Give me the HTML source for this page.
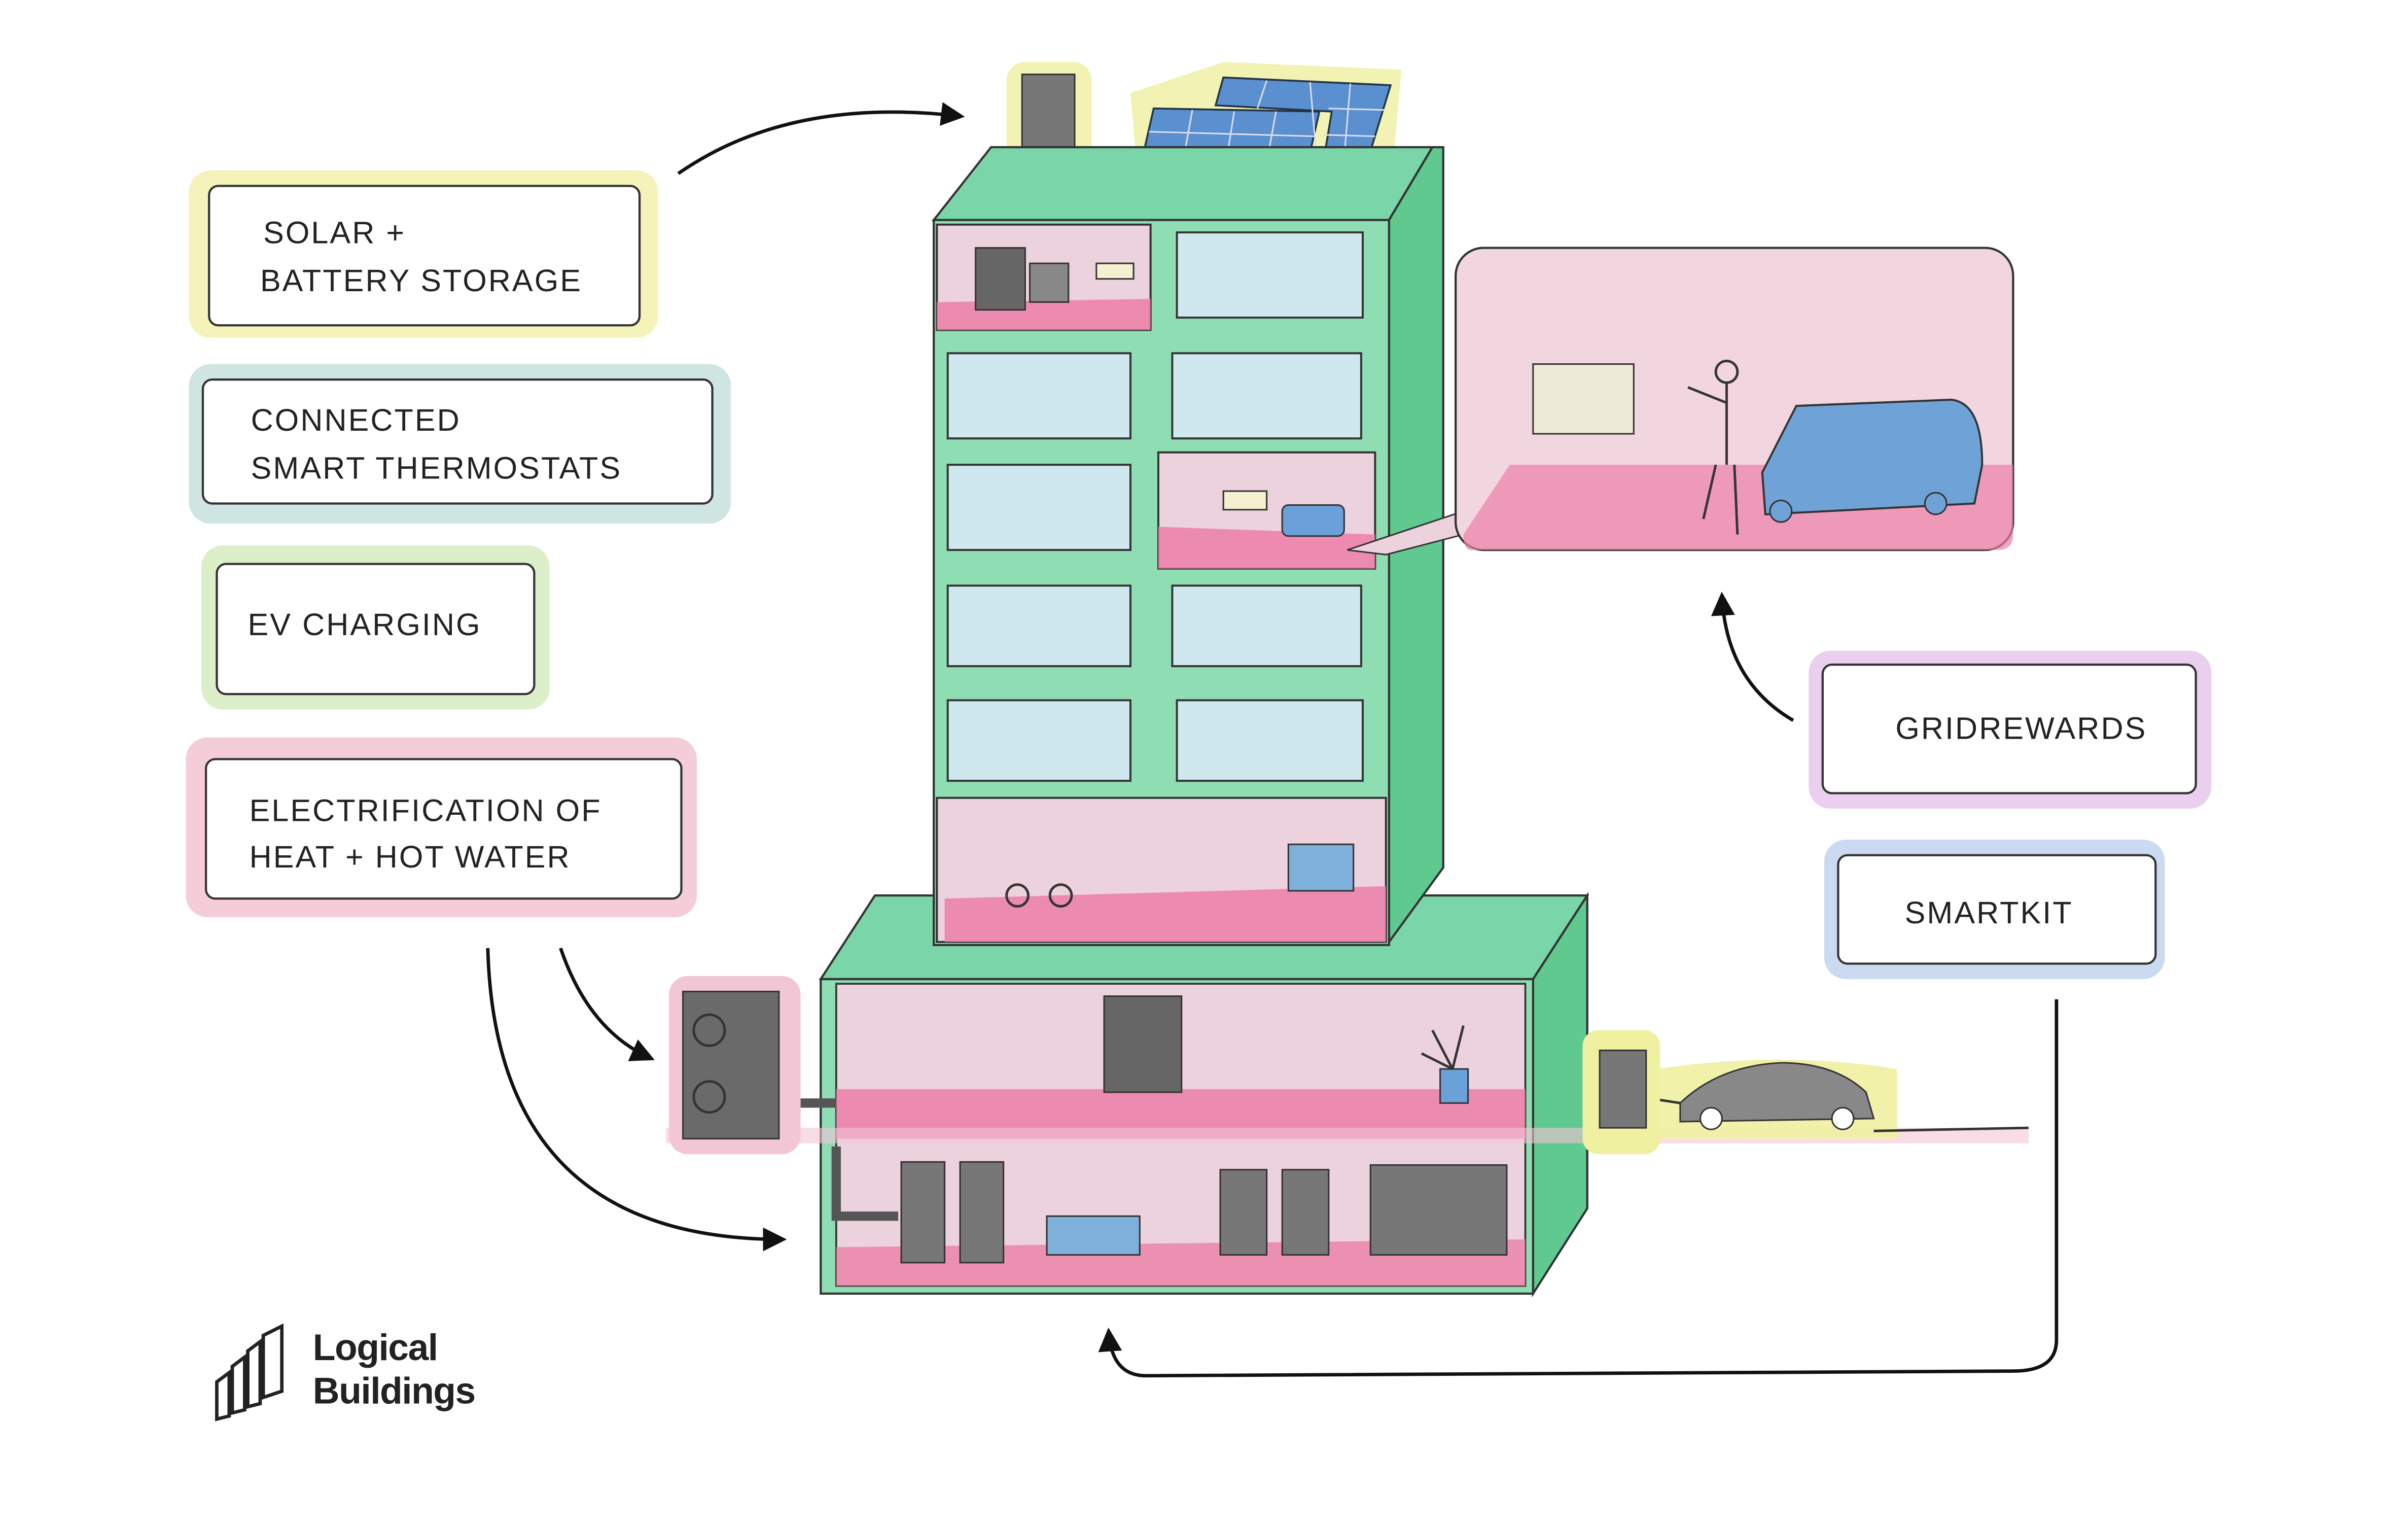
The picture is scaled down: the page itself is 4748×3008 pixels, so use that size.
<!DOCTYPE html>
<html><head><meta charset="utf-8"><style>
html,body{margin:0;padding:0;background:#fff}
svg{display:block}
.t{font-family:"Liberation Sans",sans-serif;font-size:20px;fill:#222;letter-spacing:1px}
.lg{font-family:"Liberation Sans",sans-serif;font-size:24px;font-weight:bold;fill:#222;letter-spacing:-0.5px}
.ln{fill:none;stroke:#333;stroke-width:1.6}
.ar{fill:none;stroke:#111;stroke-width:2.2}
</style></head><body>
<svg width="4748" height="3008" viewBox="0 0 1555 985" preserveAspectRatio="none" xmlns="http://www.w3.org/2000/svg">
<defs><marker id="h" viewBox="0 0 10 10" refX="8" refY="5" markerWidth="7" markerHeight="7" orient="auto"><path d="M0,0L10,5L0,10z" fill="#111"/></marker></defs>
<!-- label boxes -->
<g>
<rect x="122" y="110" width="303" height="108" rx="14" fill="#f3f0a8" opacity=".8"/>
<rect x="135" y="120" width="278" height="90" rx="6" fill="#fff" stroke="#333" stroke-width="1.4"/>
<text class="t" x="170" y="157">SOLAR +</text><text class="t" x="168" y="188">BATTERY STORAGE</text>
<rect x="122" y="235" width="350" height="103" rx="14" fill="#cfe5e2"/>
<rect x="131" y="245" width="329" height="80" rx="6" fill="#fff" stroke="#333" stroke-width="1.4"/>
<text class="t" x="162" y="278">CONNECTED</text><text class="t" x="162" y="309">SMART THERMOSTATS</text>
<rect x="130" y="352" width="225" height="106" rx="14" fill="#dcefc8"/>
<rect x="140" y="364" width="205" height="84" rx="6" fill="#fff" stroke="#333" stroke-width="1.4"/>
<text class="t" x="160" y="410">EV CHARGING</text>
<rect x="120" y="476" width="330" height="116" rx="14" fill="#f5cdd8"/>
<rect x="133" y="490" width="307" height="90" rx="6" fill="#fff" stroke="#333" stroke-width="1.4"/>
<text class="t" x="161" y="530">ELECTRIFICATION OF</text><text class="t" x="161" y="560">HEAT + HOT WATER</text>
<rect x="1168" y="420" width="260" height="102" rx="14" fill="#ead0ee"/>
<rect x="1177" y="429" width="241" height="83" rx="6" fill="#fff" stroke="#333" stroke-width="1.4"/>
<text class="t" x="1224" y="477">GRIDREWARDS</text>
<rect x="1178" y="542" width="220" height="90" rx="14" fill="#cbdaf0"/>
<rect x="1187" y="552" width="205" height="70" rx="6" fill="#fff" stroke="#333" stroke-width="1.4"/>
<text class="t" x="1230" y="596">SMARTKIT</text>
</g>
<!-- rooftop -->
<rect x="650" y="40" width="55" height="85" rx="12" fill="#eff0a0" opacity=".8"/>
<rect x="660" y="48" width="34" height="68" fill="#777" stroke="#333"/>
<path d="M730,60 L790,40 L905,45 L900,100 L860,112 L735,118z" fill="#eff0a0" opacity=".8"/>
<g stroke="#234" stroke-width="1.2" fill="#5a8fd0">
<path d="M745,70 L852,72 L842,116 L735,114z"/>
<path d="M790,50 L898,55 L883,104 L855,102 L860,72 L785,68z"/>
</g>
<g stroke="#dde" stroke-width="1"><path d="M770,71 L762,115 M797,72 L790,116 M824,72 L816,116 M742,85 L850,88 M738,100 L846,102 M818,52 L812,70 M846,53 L850,100 M872,54 L868,102 M858,70 L894,71 M855,87 L888,88"/></g>
<!-- lower block -->
<path d="M530,632 L565,578 L1025,578 L990,632z" fill="#7ad6a8" stroke="#333" stroke-width="1.4"/>
<path d="M990,632 L1025,578 L1025,780 L990,835z" fill="#5fc98f" stroke="#333" stroke-width="1.4"/>
<rect x="530" y="632" width="460" height="203" fill="#8fddb3" stroke="#333" stroke-width="1.4"/>
<rect x="540" y="635" width="445" height="195" fill="#ecd2dc" stroke="#333" stroke-width="1.2"/>
<rect x="540" y="703" width="445" height="32" fill="#ec7fa7" opacity=".85"/>
<rect x="430" y="728" width="880" height="10" fill="#f3c6d5" opacity=".6"/>
<path d="M540,805 L985,800 L985,830 L540,830z" fill="#ec7fa7" opacity=".8"/>
<rect x="713" y="643" width="50" height="62" fill="#666" stroke="#333"/>
<rect x="930" y="690" width="18" height="22" fill="#6aa1d8" stroke="#333"/>
<path class="ln" d="M938,690 L925,665 M938,690 L945,662 M938,690 L918,680" stroke="#3a7"/>
<g fill="#777" stroke="#333">
<rect x="582" y="750" width="28" height="65"/><rect x="620" y="750" width="28" height="65"/>
<rect x="788" y="755" width="30" height="55"/><rect x="828" y="755" width="30" height="55"/>
<rect x="885" y="752" width="88" height="58"/>
</g>
<rect x="676" y="785" width="60" height="25" fill="#7fb0dc" stroke="#333"/>
<path d="M540,740 L540,785 L580,785" fill="none" stroke="#555" stroke-width="6"/>
<path d="M505,712 L540,712" fill="none" stroke="#555" stroke-width="6"/>
<!-- tower -->
<path d="M603,142 L640,95 L925,95 L897,142z" fill="#7ad6a8" stroke="#333" stroke-width="1.4"/>
<path d="M897,142 L925,95 L932,95 L932,560 L897,608z" fill="#5fc98f" stroke="#333" stroke-width="1.4"/>
<rect x="603" y="142" width="294" height="468" fill="#8fddb3" stroke="#333" stroke-width="1.4"/>
<g fill="#cfe7ee" stroke="#333" stroke-width="1.3">
<rect x="760" y="150" width="120" height="55"/>
<rect x="612" y="228" width="118" height="55"/><rect x="757" y="228" width="122" height="55"/>
<rect x="612" y="300" width="118" height="55"/>
<rect x="612" y="378" width="118" height="52"/><rect x="757" y="378" width="122" height="52"/>
<rect x="612" y="452" width="118" height="52"/><rect x="760" y="452" width="120" height="52"/>
</g>
<g fill="#ecd2dc" stroke="#333" stroke-width="1.3">
<rect x="605" y="145" width="138" height="68"/>
<rect x="748" y="292" width="140" height="75"/>
<rect x="605" y="515" width="290" height="93"/>
</g>
<g fill="#ec7fa7" opacity=".85">
<path d="M605,195 L743,193 L743,213 L605,213z"/>
<path d="M748,340 L888,345 L888,367 L748,367z"/>
<path d="M610,580 L895,572 L895,608 L610,608z"/>
</g>
<rect x="630" y="160" width="32" height="40" fill="#666" stroke="#333"/>
<rect x="665" y="170" width="25" height="25" fill="#888" stroke="#333"/>
<rect x="708" y="170" width="24" height="10" fill="#f5f0d0" stroke="#333"/>
<rect x="790" y="317" width="28" height="12" fill="#f5f0d0" stroke="#333"/>
<rect x="828" y="326" width="40" height="20" rx="4" fill="#6aa1d8" stroke="#333"/>
<rect x="832" y="545" width="42" height="30" fill="#7fb0dc" stroke="#333"/>
<circle cx="657" cy="578" r="7" class="ln"/><circle cx="685" cy="578" r="7" class="ln"/>
<!-- zoom bubble -->
<path d="M870,355 L945,330 L945,345 L895,358z" fill="#ecd2dc" stroke="#333"/>
<rect x="940" y="160" width="360" height="195" rx="18" fill="#f1d6e0" stroke="#333" stroke-width="1.4"/>
<path d="M975,300 L1300,300 L1300,345 Q1300,355 1290,355 L950,355 Q945,355 945,345z" fill="#ec7fa7" opacity=".7"/>
<rect x="990" y="235" width="65" height="45" fill="#eeead8" stroke="#333"/>
<circle cx="1115" cy="240" r="7" class="ln"/><path class="ln" d="M1115,247 L1115,300 M1108,300 L1100,335 M1120,300 L1122,345 M1115,260 L1090,250"/>
<path d="M1138,305 L1160,262 L1260,258 Q1280,260 1280,300 L1275,325 L1140,332z" fill="#6fa3d8" stroke="#333" stroke-width="1.3"/>
<circle cx="1150" cy="330" r="7" fill="#6fa3d8" stroke="#333"/><circle cx="1250" cy="325" r="7" fill="#6fa3d8" stroke="#333"/>
<!-- heat pump -->
<rect x="432" y="630" width="85" height="115" rx="12" fill="#f3c6d5"/>
<rect x="441" y="640" width="62" height="95" fill="#6a6a6a" stroke="#333"/>
<circle cx="458" cy="665" r="10" class="ln" stroke="#ddd"/><circle cx="458" cy="708" r="10" class="ln" stroke="#ddd"/>
<!-- EV charger and car -->
<rect x="1022" y="665" width="50" height="80" rx="10" fill="#eff0a0"/>
<rect x="1033" y="678" width="30" height="50" fill="#777" stroke="#333"/>
<path d="M1070,690 Q1150,678 1225,690 L1225,735 L1070,735z" fill="#eff0a0" opacity=".9"/>
<path d="M1085,712 Q1110,688 1150,686 Q1185,686 1205,705 L1210,722 L1085,724z" fill="#888" stroke="#333"/>
<circle cx="1105" cy="722" r="7" fill="#fff" stroke="#333"/><circle cx="1190" cy="722" r="7" fill="#fff" stroke="#333"/>
<path class="ln" d="M1072,710 L1085,712 M1210,730 L1310,728"/>
<!-- arrows -->
<path class="ar" marker-end="url(#h)" d="M438,112 Q510,62 620,75"/>
<path class="ar" marker-end="url(#h)" d="M1158,465 Q1115,440 1112,385"/>
<path class="ar" marker-end="url(#h)" d="M362,612 Q380,665 420,683"/>
<path class="ar" marker-end="url(#h)" d="M315,612 Q320,800 505,800"/>
<path class="ar" marker-end="url(#h)" d="M1328,645 L1328,865 Q1328,885 1300,885 L740,888 Q718,888 716,860"/>
<!-- logo -->
<g fill="none" stroke="#222" stroke-width="2.2">
<path d="M140,892 L148,886 L148,914 L140,916z"/><path d="M150,882 L158,876 L158,910 L150,912z"/>
<path d="M160,872 L168,866 L168,906 L160,908z"/><path d="M170,862 L182,856 L182,898 L170,902z"/>
</g>
<text class="lg" x="202" y="878">Logical</text><text class="lg" x="202" y="906">Buildings</text>
</svg>
</body></html>
